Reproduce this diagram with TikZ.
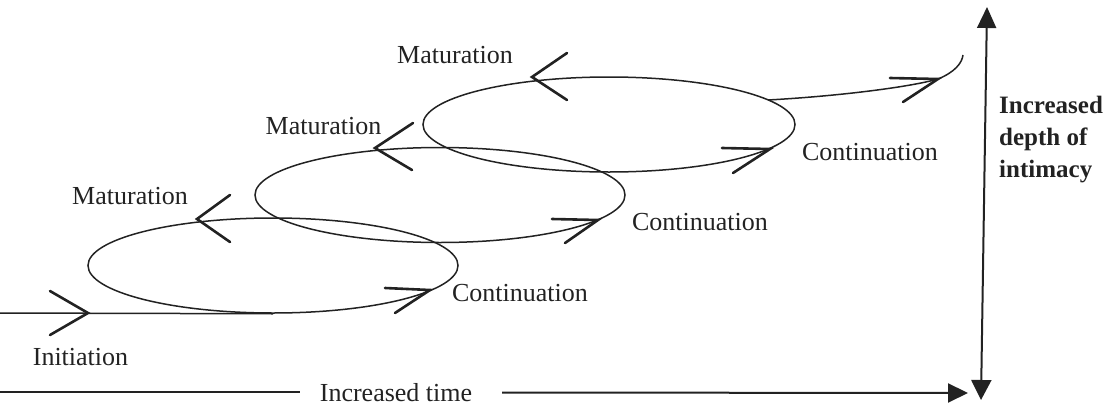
\documentclass[tikz,border=0pt]{standalone}
\usepackage{fontspec}
\setmainfont{Liberation Serif}
\usetikzlibrary{shapes.geometric,arrows.meta}
\definecolor{ink}{HTML}{222222}
\begin{document}
\begin{tikzpicture}[x=1pt,y=-1pt,
  loop/.style={ellipse,draw=ink,line width=1.5pt,minimum width=370pt,minimum height=95pt,inner sep=0pt},
  chev/.style={draw=ink,line width=2.6pt,line cap=round,line join=miter},
  curve/.style={draw=ink,line width=1.5pt},
  axis/.style={draw=ink,line width=2pt},
  lbl/.style={inner sep=0pt,font=\fontsize{26}{30}\selectfont,text=ink},
  blbl/.style={inner sep=0pt,font=\bfseries\fontsize{25}{32}\selectfont,align=left,text=ink},
  tipend/.style={-{Triangle[length=20pt,width=19pt]}}
]
\useasboundingbox (0,0) rectangle (1108,407);

% loops
\node[loop] (e1) at (273,265.5) {};
\node[loop] (e2) at (440,195) {};
\node[loop,minimum width=372pt] (e3) at (609,124.5) {};

% entry and exit lines
\coordinate (s0) at (0,313);
\draw[curve] (s0) -- (e1.south);
\coordinate (x0) at (768,100);
\coordinate (xt) at (938,79);
\coordinate (xe) at (963,55);
\draw[curve] (x0) .. controls (840,96) and (910,87) .. (xt) .. controls (955,72) and (962,63) .. (xe);

% chevron tips
\coordinate (ci) at (88,313);
\coordinate (m1) at (197,219);
\coordinate (m2) at (375,148);
\coordinate (m3) at (532,77);
\coordinate (k1) at (430,290);
\coordinate (k2) at (598,220);
\coordinate (k3) at (770,149);
\coordinate (kx) at (938,79);

\draw[chev] (ci) ++(-38,-22) -- (ci) -- ++(-38,22);
\draw[chev] (m1) ++(33,-24) -- (m1) -- ++(33,23);
\draw[chev] (m2) ++(38,-25) -- (m2) -- ++(37,22);
\draw[chev] (m3) ++(35,-24) -- (m3) -- ++(35,23);
\draw[chev] (k1) ++(-45,-2) -- (k1) -- ++(-35,23);
\draw[chev] (k2) ++(-46,-1) -- (k2) -- ++(-33,23);
\draw[chev] (k3) ++(-48,-1) -- (k3) -- ++(-37,24);
\draw[chev] (kx) ++(-48,-1) -- (kx) -- ++(-35,23);

% labels
\node[lbl] (tinit) at (80.5,357) {Initiation};
\node[lbl] (tm1) at (130,196) {Maturation};
\node[lbl] (tm2) at (323.5,126) {Maturation};
\node[lbl] (tm3) at (455,55) {Maturation};
\node[lbl] (tc1) at (520,293) {Continuation};
\node[lbl] (tc2) at (700,222) {Continuation};
\node[lbl] (tc3) at (870,152) {Continuation};

% time axis
\node[lbl] (ttime) at (396,393) {Increased time};
\coordinate (h0) at (0,392);
\coordinate (hl) at (300,392);
\coordinate (hr) at (502,392.5);
\coordinate (h1) at (968,393);
\draw[axis] (h0) -- (hl);
\draw[axis,tipend] (hr) -- (h1);

% depth axis
\coordinate (vt) at (987,7);
\coordinate (vb) at (981,400);
\draw[axis,{Triangle[length=21pt,width=19pt]}-{Triangle[length=20pt,width=20pt]}] (vt) -- (vb);
\node[blbl,anchor=west] (tdepth) at (999,140) {Increased\\depth of\\intimacy};
\end{tikzpicture}
\end{document}
